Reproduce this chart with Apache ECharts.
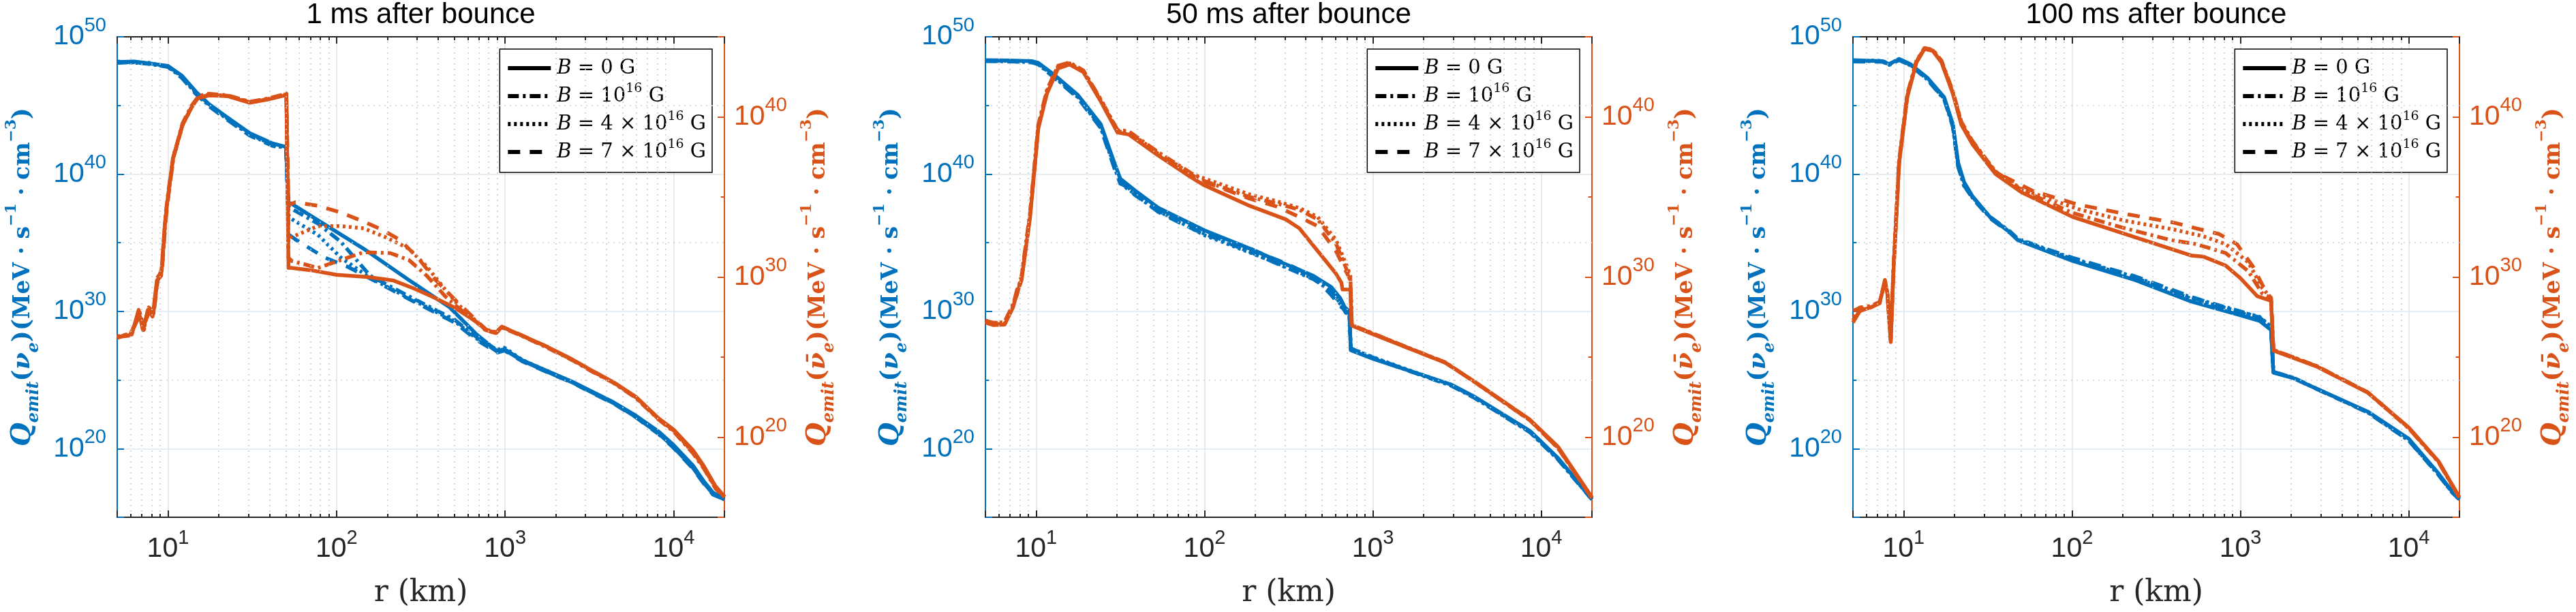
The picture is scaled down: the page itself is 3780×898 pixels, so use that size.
<!DOCTYPE html>
<html>
<head>
<meta charset="utf-8">
<title>Q_emit profiles</title>
<style>
  html, body { margin: 0; padding: 0; background: #fff; }
</style>
</head>
<body>
<div id="main" style="width: 3780px; height: 898px;"></div>
<script src="https://cdn.jsdelivr.net/npm/echarts@6/dist/echarts.min.js"></script>
<script type="text/javascript">
// every curve: [r (km), log10 Q_emit]
// ---- 1 ms after bounce ----
var nue1_B0 = [[5,48.16],[6.3,48.2],[7.9,48.05],[9,47.95],[10,47.88],[12.1,47.17],[14.6,46.02],[17.5,45.1],[22.5,44.13],[30.6,42.97],[41.8,42.23],[50.2,41.98],[51.9,37.9],[53.6,37.87],[144,34.58],[269,32.28],[468,30.3],[681,28.3],[900,27.1],[990,27.25],[1270,26.43],[2020,25.36],[2510,24.87],[3210,24.21],[4380,23.39],[5970,22.4],[8150,21.24],[10000,20.26],[13000,18.78],[15100,17.62],[17100,16.8],[20000,16.35]];
var nue1_B1 = [[5,48.1],[6.3,48.15],[7.9,48.0],[9,47.9],[10,47.8],[12.1,47.05],[14.6,45.9],[17.5,45.0],[22.5,44.0],[30.6,42.85],[41.8,42.1],[50.2,41.9],[51.9,37.6],[54.3,37.46],[77.6,36.39],[106,35.07],[158,32.6],[269,31.1],[500,29.4],[681,28.1],[900,27.05],[990,27.2],[1270,26.4],[2020,25.3],[2510,24.82],[3210,24.15],[4380,23.33],[5970,22.3],[8150,21.1],[10000,20.1],[13000,18.6],[15100,17.5],[17100,16.7],[20000,16.3]];
var nue1_B4 = [[5,48.2],[6.3,48.1],[7.9,48.1],[9,47.9],[10,47.85],[12.1,47.1],[14.6,45.95],[17.5,45.05],[22.5,44.05],[30.6,42.9],[41.8,42.15],[50.2,41.95],[51.9,37.0],[54.3,36.72],[77.6,35.57],[106,33.92],[158,32.44],[269,30.96],[500,29.3],[681,28.0],[900,27.2],[990,27.35],[1270,26.45],[2020,25.35],[2510,24.85],[3210,24.2],[4380,23.36],[5970,22.35],[8150,21.15],[10000,20.15],[13000,18.7],[15100,17.55],[17100,16.75],[20000,16.3]];
var nue1_B7 = [[5,48.12],[6.3,48.18],[7.9,48.02],[9,47.92],[10,47.82],[12.1,47.0],[14.6,45.85],[17.5,44.95],[22.5,43.95],[30.6,42.8],[41.8,42.05],[50.2,41.85],[52,35.6],[57,35.24],[85,33.92],[116,33.26],[158,32.4],[269,30.9],[500,29.2],[681,27.9],[900,27.0],[990,27.15],[1270,26.35],[2020,25.28],[2510,24.8],[3210,24.12],[4380,23.3],[5970,22.28],[8150,21.05],[10000,20.05],[13000,18.55],[15100,17.45],[17100,16.65],[20000,16.3]];
var anue1_B0 = [[5,26.26],[6.1,26.4],[6.7,27.95],[7.1,26.68],[7.6,27.95],[8.1,27.53],[8.6,29.79],[9.1,30.07],[9.6,33.4],[10,35.0],[10.7,37.42],[11.4,38.4],[12.1,39.4],[13.7,40.53],[15,41.16],[17.5,41.34],[22.5,41.3],[30.6,40.88],[39.3,41.09],[50.4,41.37],[51.9,30.57],[53.6,30.57],[70,30.43],[100,30.14],[154,30.0],[216,29.79],[286,29.3],[366,28.8],[500,28.1],[681,27.18],[771,26.68],[885,26.54],[957,26.89],[1270,26.33],[1730,25.7],[2510,24.85],[3210,24.21],[4380,23.44],[5970,22.52],[8150,21.17],[10000,20.47],[13000,19.2],[15100,18.2],[17700,16.94],[20000,16.3]];
var anue1_B1 = [[5,26.2],[6,26.5],[6.8,27.6],[7.2,26.9],[7.7,28.1],[8.2,27.8],[8.7,29.9],[9.2,30.5],[9.7,34.0],[10.1,35.5],[10.8,37.6],[11.5,38.6],[12.2,39.6],[13.8,40.7],[15.2,41.3],[17.5,41.45],[22.5,41.35],[30.6,40.95],[39.3,41.15],[50.4,41.45],[51.9,31.2],[54.3,31.0],[77.6,30.57],[106,31.06],[145,31.55],[209,31.49],[269,31.06],[344,30.07],[441,28.8],[525,28.1],[681,27.15],[771,26.65],[885,26.5],[957,26.85],[1270,26.3],[1730,25.65],[2510,24.8],[3210,24.15],[4380,23.4],[5970,22.45],[8150,21.1],[10000,20.35],[13000,19.0],[15100,18.05],[17700,16.8],[20000,16.25]];
var anue1_B4 = [[5,26.3],[6,26.45],[6.8,27.8],[7.2,26.8],[7.7,28.0],[8.2,27.7],[8.7,30.0],[9.2,30.4],[9.7,33.8],[10.1,35.3],[10.8,37.5],[11.5,38.5],[12.2,39.5],[13.8,40.6],[15.2,41.25],[17.5,41.4],[22.5,41.3],[30.6,40.9],[39.3,41.1],[50.4,41.4],[51.9,32.2],[53.6,32.47],[77.6,33.18],[106,33.18],[145,33.04],[197,32.47],[269,31.77],[344,30.64],[441,29.22],[525,28.3],[681,27.2],[771,26.7],[885,26.55],[957,26.88],[1270,26.32],[1730,25.68],[2510,24.82],[3210,24.18],[4380,23.42],[5970,22.48],[8150,21.12],[10000,20.4],[13000,19.05],[15100,18.1],[17700,16.85],[20000,16.25]];
var anue1_B7 = [[5,26.25],[6,26.35],[6.8,27.7],[7.2,26.7],[7.7,27.9],[8.2,27.6],[8.7,29.8],[9.2,30.3],[9.7,33.6],[10.1,35.2],[10.8,37.5],[11.5,38.5],[12.2,39.5],[13.8,40.6],[15.2,41.2],[17.5,41.38],[22.5,41.32],[30.6,40.92],[39.3,41.12],[50.4,41.42],[51.9,34.5],[57,34.67],[77.6,34.45],[106,34.03],[145,33.46],[185,32.97],[237,32.33],[304,31.2],[389,29.79],[525,28.4],[681,27.25],[771,26.72],[885,26.56],[957,26.9],[1270,26.34],[1730,25.7],[2510,24.84],[3210,24.2],[4380,23.43],[5970,22.5],[8150,21.14],[10000,20.42],[13000,19.1],[15100,18.12],[17700,16.88],[20000,16.28]];

// ---- 50 ms after bounce ----
var nue2_B0 = [[5,48.3],[7,48.28],[9.5,48.22],[10.3,48.1],[13,47.17],[17.7,45.76],[24.2,43.64],[29.2,40.8],[31.6,39.67],[38.4,38.83],[53,37.55],[72.8,36.72],[100,35.9],[185,34.58],[304,33.43],[442,32.6],[565,31.78],[640,30.96],[681,30.3],[724,30.0],[740,27.17],[1020,26.51],[1790,25.53],[2900,24.68],[3950,23.83],[8570,21.29],[12600,19.31],[20000,16.34]];
var nue2_B1 = [[5,48.25],[7,48.2],[9.5,48.15],[10.3,48.0],[13,47.0],[17.7,45.6],[24.2,43.4],[29.2,40.5],[31.6,39.3],[35,39.1],[38.4,38.5],[53,37.3],[72.8,36.5],[100,35.65],[185,34.35],[304,33.2],[442,32.35],[565,31.5],[640,30.6],[690,29.9],[724,29.8],[740,27.3],[1020,26.6],[1790,25.5],[2900,24.6],[3950,23.75],[8570,21.2],[12600,19.2],[20000,16.3]];
var nue2_B4 = [[5,48.28],[7,48.25],[9.5,48.18],[10.3,48.05],[13,47.05],[17.7,45.65],[24.2,43.45],[29.2,40.6],[31.6,39.4],[35,38.9],[38.4,38.6],[53,37.35],[72.8,36.45],[100,35.55],[185,34.3],[304,33.25],[442,32.4],[565,31.45],[640,30.55],[700,29.95],[724,30.1],[740,27.3],[1020,26.62],[1790,25.55],[2900,24.65],[3950,23.78],[8570,21.22],[12600,19.25],[20000,16.3]];
var nue2_B7 = [[5,48.22],[7,48.22],[9.5,48.12],[10.3,48.0],[13,46.95],[17.7,45.55],[24.2,43.35],[29.2,40.4],[31.6,39.35],[35,39.0],[38.4,38.55],[53,37.25],[72.8,36.4],[100,35.6],[150,35.0],[185,34.6],[250,33.9],[304,33.5],[442,32.55],[565,31.2],[650,30.3],[724,29.9],[740,27.2],[1020,26.55],[1790,25.5],[2900,24.62],[3950,23.75],[8570,21.2],[12600,19.22],[20000,16.3]];
var anue2_B0 = [[5,27.15],[5.6,27.0],[6.5,27.03],[7.3,28.12],[7.7,29.0],[8.2,29.82],[9.2,33.7],[10.3,39.27],[11.6,41.45],[13.5,43.03],[15.8,43.27],[19.1,42.79],[24.2,40.97],[30.4,39.03],[35.5,38.9],[53,37.6],[83,36.24],[100,35.72],[185,34.45],[304,33.6],[366,33.04],[470,31.63],[603,30.22],[650,29.65],[660,29.22],[735,29.22],[748,26.97],[1020,26.4],[1630,25.56],[2690,24.65],[3950,23.52],[8570,21.09],[12600,19.39],[20000,16.24]];
var anue2_B1 = [[5,27.3],[5.6,27.1],[6.5,27.2],[7.3,28.3],[7.7,28.9],[8.2,30.1],[9.2,34.0],[10.3,39.5],[11.6,41.7],[13.5,43.2],[15.8,43.4],[19.1,42.9],[24.2,41.1],[30.4,39.2],[35.5,39.1],[53,37.8],[83,36.5],[100,36.0],[185,35.0],[269,34.6],[366,34.2],[470,33.6],[603,32.1],[703,30.4],[735,29.9],[750,27.0],[1020,26.45],[1630,25.58],[2690,24.68],[3950,23.5],[8570,21.05],[12600,19.3],[20000,16.2]];
var anue2_B4 = [[5,27.2],[5.6,27.05],[6.5,27.1],[7.3,28.2],[7.7,29.1],[8.2,30.0],[9.2,33.9],[10.3,39.4],[11.6,41.6],[13.5,43.15],[15.8,43.35],[19.1,42.85],[24.2,41.05],[30.4,39.15],[35.5,39.05],[53,37.75],[83,36.45],[100,36.15],[185,35.16],[269,34.73],[366,34.31],[470,33.75],[603,32.33],[703,30.64],[735,30.07],[750,27.0],[1020,26.43],[1630,25.57],[2690,24.66],[3950,23.51],[8570,21.07],[12600,19.33],[20000,16.22]];
var anue2_B7 = [[5,27.25],[5.6,27.15],[6.5,27.15],[7.3,28.25],[7.7,29.2],[8.2,29.95],[9.2,33.8],[10.3,39.35],[11.6,41.55],[13.5,43.1],[15.8,43.3],[19.1,42.82],[24.2,41.0],[30.4,39.1],[35.5,39.0],[53,37.7],[83,36.4],[100,35.95],[185,34.9],[269,34.4],[366,33.75],[470,33.18],[603,31.63],[703,30.22],[735,29.8],[750,27.0],[1020,26.42],[1630,25.56],[2690,24.66],[3950,23.5],[8570,21.06],[12600,19.32],[20000,16.22]];

// ---- 100 ms after bounce ----
var nue3_B0 = [[5,48.3],[7.5,48.22],[8.2,48.0],[9.4,48.39],[11,48.0],[13.8,47.03],[17.4,45.6],[19.6,43.64],[21.1,40.8],[22.9,39.39],[25.6,38.4],[32.5,36.88],[43,35.73],[47.5,35.2],[101,33.67],[237,32.28],[514,30.71],[1000,29.72],[1300,29.31],[1520,28.65],[1570,25.53],[2080,25.12],[2630,24.54],[5700,22.7],[10000,20.72],[15000,18.2],[18000,16.9],[20000,16.34]];
var nue3_B1 = [[5,48.25],[7.5,48.2],[8.2,47.95],[9.4,48.35],[11,47.9],[13.8,46.9],[17.4,45.45],[19.6,43.5],[21.1,40.5],[22.9,39.2],[25.6,38.3],[32.5,36.9],[43,35.8],[47.5,35.3],[101,33.85],[237,32.5],[514,31.0],[1000,30.0],[1300,29.55],[1520,28.85],[1570,25.6],[2080,25.15],[2630,24.55],[5700,22.65],[10000,20.6],[15000,18.1],[18000,16.85],[20000,16.3]];
var nue3_B4 = [[5,48.28],[7.5,48.25],[8.2,48.02],[9.4,48.36],[11,47.95],[13.8,46.95],[17.4,45.5],[19.6,43.55],[21.1,40.6],[22.9,39.1],[25.6,38.35],[32.5,36.85],[43,35.75],[47.5,35.25],[101,33.8],[237,32.45],[514,30.9],[1000,29.95],[1300,29.6],[1520,28.9],[1570,25.6],[2080,25.14],[2630,24.55],[5700,22.66],[10000,20.62],[15000,18.12],[18000,16.86],[20000,16.3]];
var nue3_B7 = [[5,48.2],[7.5,48.18],[8.2,47.98],[9.4,48.3],[11,47.92],[13.8,46.92],[17.4,45.48],[19.6,43.45],[21.1,40.55],[22.9,39.15],[25.6,38.25],[32.5,36.8],[43,35.7],[47.5,35.22],[101,33.9],[237,32.55],[514,31.05],[1000,29.9],[1300,29.5],[1520,28.8],[1570,25.58],[2080,25.13],[2630,24.53],[5700,22.64],[10000,20.6],[15000,18.1],[18000,16.85],[20000,16.3]];
var anue3_B0 = [[5,27.15],[5.3,27.6],[5.5,27.88],[6.4,28.12],[7.2,28.36],[7.74,29.82],[8.0,29.0],[8.38,25.94],[8.7,30.3],[9.4,37.09],[10.5,41.21],[11.9,43.39],[13.3,44.24],[14.9,44.12],[16.8,43.39],[19.6,41.45],[22,39.52],[25.6,38.3],[35,36.45],[50,35.3],[101,33.75],[237,32.48],[514,31.34],[600,31.28],[819,30.71],[1000,29.93],[1260,28.8],[1520,28.52],[1570,25.41],[2830,24.42],[5700,22.79],[10000,20.6],[15000,18.5],[20000,16.24]];
var anue3_B1 = [[5,27.9],[5.3,28.0],[5.5,28.1],[6.4,28.2],[7.2,28.45],[7.74,29.6],[8.0,29.1],[8.38,26.2],[8.7,30.6],[9.4,37.3],[10.5,41.4],[11.9,43.5],[13.3,44.3],[14.9,44.2],[16.8,43.5],[19.6,41.6],[22,39.7],[25.6,38.5],[35,36.6],[50,35.45],[101,34.0],[197,33.1],[378,32.33],[550,32.05],[819,31.49],[1115,30.36],[1350,28.96],[1520,28.7],[1570,25.45],[2830,24.45],[5700,22.8],[10000,20.55],[15000,18.45],[20000,16.22]];
var anue3_B4 = [[5,27.5],[5.3,27.7],[5.5,27.95],[6.4,28.15],[7.2,28.4],[7.74,29.7],[8.0,29.05],[8.38,26.1],[8.7,30.5],[9.4,37.2],[10.5,41.3],[11.9,43.45],[13.3,44.28],[14.9,44.16],[16.8,43.45],[19.6,41.55],[22,39.65],[25.6,38.45],[35,36.6],[50,35.5],[109,34.24],[203,33.53],[401,32.97],[600,32.55],[819,32.05],[1115,30.92],[1350,29.3],[1520,28.7],[1570,25.45],[2830,24.44],[5700,22.8],[10000,20.57],[15000,18.47],[20000,16.22]];
var anue3_B7 = [[5,27.3],[5.3,27.65],[5.5,27.9],[6.4,28.1],[7.2,28.38],[7.74,29.75],[8.0,29.02],[8.38,26.05],[8.7,30.4],[9.4,37.15],[10.5,41.25],[11.9,43.42],[13.3,44.26],[14.9,44.14],[16.8,43.42],[19.6,41.5],[22,39.6],[25.6,38.4],[35,36.55],[58.6,35.37],[109,34.52],[203,33.96],[401,33.4],[547,33.04],[746,32.69],[955,32.05],[1189,30.64],[1432,29.0],[1520,28.7],[1570,25.45],[2830,24.43],[5700,22.8],[10000,20.58],[15000,18.48],[20000,16.23]];

var panelTitles = ['1 ms after bounce', '50 ms after bounce', '100 ms after bounce'];
var fieldNames = ['B = 0 G', 'B = 10^16 G', 'B = 4 × 10^16 G', 'B = 7 × 10^16 G'];
var nueCurves = [[nue1_B0, nue1_B1, nue1_B4, nue1_B7], [nue2_B0, nue2_B1, nue2_B4, nue2_B7], [nue3_B0, nue3_B1, nue3_B4, nue3_B7]];
var anueCurves = [[anue1_B0, anue1_B1, anue1_B4, anue1_B7], [anue2_B0, anue2_B1, anue2_B4, anue2_B7], [anue3_B0, anue3_B1, anue3_B4, anue3_B7]];
var minorR = [6, 7, 8, 9, 20, 30, 40, 50, 60, 70, 80, 90, 200, 300, 400, 500, 600, 700, 800, 900, 2000, 3000, 4000, 5000, 6000, 7000, 8000, 9000];
var minorQ = [1e25, 1e35, 1e45];
var minorQright = [1e25, 1e35];

var R_MIN = 5, R_MAX = 20000;
var NUE_MIN = 1e15, NUE_MAX = 1e50;
var ANUE_MIN = 1e15, ANUE_MAX = 1e45;

var BLUE = '#0072BD', ORANGE = '#D95319', DARK = '#262626';
var lineTypes = ['solid', [16, 6, 4, 6], [4, 5], [18, 14]];
var gridLefts = [172, 1446, 2719];
var gridWidths = [891, 890, 890];
var GRID_TOP = 54, GRID_H = 709;
var PAGE_W = 3780;

var myChart = echarts.init(document.getElementById('main'), null, { renderer: 'canvas' });

function tickRich(color) {
    return {
        b: { fontFamily: 'Liberation Sans', fontSize: 41, lineHeight: 62, color: color },
        s: { fontFamily: 'Liberation Sans', fontSize: 29, lineHeight: 30, verticalAlign: 'top', color: color }
    };
}
function decadeLabel(v, step) {
    var e = Math.log10(v);
    var n = Math.round(e);
    if (Math.abs(e - n) > 1e-6 || n % step !== 0) return '';
    return '{b|10}{s|' + n + '}';
}
function nameRich(color) {
    var f = 'DejaVu Serif';
    return {
        q: { fontFamily: f, fontStyle: 'italic', fontWeight: 'bold', fontSize: 40, lineHeight: 56, color: color },
        sub: { fontFamily: f, fontStyle: 'italic', fontWeight: 'bold', fontSize: 24, lineHeight: 25, verticalAlign: 'bottom', color: color },
        p: { fontFamily: f, fontWeight: 'bold', fontSize: 36, lineHeight: 56, color: color },
        nu: { fontFamily: f, fontStyle: 'italic', fontWeight: 'bold', fontSize: 36, lineHeight: 56, color: color },
        b: { fontFamily: f, fontWeight: 'bold', fontSize: 33, lineHeight: 56, color: color },
        sup: { fontFamily: f, fontWeight: 'bold', fontSize: 22, lineHeight: 23, verticalAlign: 'top', color: color }
    };
}
function qName(nu) {
    return '{q|Q}{sub|emit}{p|(}{nu|' + nu + '}{sub|e}{p|)(}{b|MeV · s}{sup|−1}{b| · cm}{sup|−3}{p|)}';
}
var legendText = {
    'B = 0 G': '{i|B}{r| = 0 G}',
    'B = 10^16 G': '{i|B}{r| = 10}{s|16}{r| G}',
    'B = 4 × 10^16 G': '{i|B}{r| = 4 × 10}{s|16}{r| G}',
    'B = 7 × 10^16 G': '{i|B}{r| = 7 × 10}{s|16}{r| G}'
};

var titles = [], grids = [], xAxes = [], yAxes = [], legends = [], series = [];

for (var p = 0; p < 3; p++) {
    var plotRight = gridLefts[p] + gridWidths[p];
    titles.push({
        text: panelTitles[p], left: gridLefts[p] + gridWidths[p] / 2, top: 1, textAlign: 'center', padding: 0,
        textStyle: { fontFamily: 'Liberation Sans', fontSize: 42, fontWeight: 'normal', color: '#000' }
    });
    grids.push({ left: gridLefts[p], top: GRID_TOP, width: gridWidths[p], height: GRID_H, containLabel: false });

    xAxes.push({
        type: 'log', logBase: 10, gridIndex: p, min: R_MIN, max: R_MAX, position: 'bottom',
        name: 'r (km)', nameLocation: 'middle', nameGap: 90,
        nameTextStyle: { fontFamily: 'DejaVu Serif', fontSize: 44, color: DARK },
        axisLine: { onZero: false, lineStyle: { color: DARK, width: 2 } },
        axisTick: { inside: true, length: 10, lineStyle: { color: DARK, width: 2 } },
        axisLabel: { margin: 16, color: DARK, formatter: function (v) { return decadeLabel(v, 1); }, rich: tickRich(DARK) },
        splitLine: { show: true, lineStyle: { color: '#e2e2e2', width: 1.5 } }
    });
    xAxes.push({
        type: 'log', logBase: 10, gridIndex: p, min: R_MIN, max: R_MAX, position: 'top',
        axisLine: { onZero: false, lineStyle: { color: DARK, width: 2 } },
        axisTick: { inside: true, length: 10, lineStyle: { color: DARK, width: 2 } },
        axisLabel: { show: false },
        splitLine: { show: false }
    });

    yAxes.push({
        type: 'log', logBase: 10, gridIndex: p, min: NUE_MIN, max: NUE_MAX, position: 'left',
        name: qName('ν'), nameLocation: 'middle', nameRotate: 90, nameGap: 110,
        nameTextStyle: { color: BLUE, rich: nameRich(BLUE) },
        axisLine: { show: true, onZero: false, lineStyle: { color: BLUE, width: 2 } },
        axisTick: { inside: true, length: 10, lineStyle: { color: BLUE, width: 2 } },
        axisLabel: { margin: 16, color: BLUE, formatter: function (v) { return decadeLabel(v, 10); }, rich: tickRich(BLUE) },
        splitLine: { show: true, lineStyle: { color: '#dbe8f3', width: 1.5 } }
    });
    yAxes.push({
        type: 'log', logBase: 10, gridIndex: p, min: ANUE_MIN, max: ANUE_MAX, position: 'right',
        name: qName('ν̄'), nameLocation: 'middle', nameRotate: 90, nameGap: 110,
        nameTextStyle: { color: ORANGE, rich: nameRich(ORANGE) },
        axisLine: { show: true, onZero: false, lineStyle: { color: ORANGE, width: 2 } },
        axisTick: { inside: true, length: 10, lineStyle: { color: ORANGE, width: 2 } },
        axisLabel: { margin: 14, color: ORANGE, formatter: function (v) { return decadeLabel(v, 10); }, rich: tickRich(ORANGE) },
        splitLine: { show: false }
    });

    legends.push({
        right: PAGE_W - (plotRight - 18), top: 72, orient: 'vertical',
        data: fieldNames.map(function (n) { return { name: n, lineStyle: { width: 6 } }; }),
        itemWidth: 63, itemHeight: 22, itemGap: 1, padding: [8, 9, 10, 9],
        borderColor: '#000', borderWidth: 1.5, backgroundColor: '#fff', borderRadius: 0,
        selectedMode: false, itemStyle: { opacity: 0 },
        lineStyle: { width: 6 },
        formatter: function (name) { return legendText[name]; },
        textStyle: {
            fontFamily: 'DejaVu Serif', fontSize: 29, color: '#000', lineHeight: 40,
            rich: {
                i: { fontFamily: 'DejaVu Serif', fontStyle: 'italic', fontSize: 29, lineHeight: 40, padding: [0, 0, 0, 4] },
                r: { fontFamily: 'DejaVu Serif', fontSize: 29, lineHeight: 40 },
                s: { fontFamily: 'DejaVu Serif', fontSize: 19, lineHeight: 22, verticalAlign: 'top' }
            }
        }
    });

    // minor grid and minor ticks
    var xi = 2 * p, yl = 2 * p, yr = 2 * p + 1;
    var mlBase = { silent: true, symbol: ['none', 'none'], label: { show: false }, animation: false };
    series.push({
        type: 'line', name: '_vgrid' + p, xAxisIndex: xi, yAxisIndex: yl, data: [], silent: true,
        markLine: Object.assign({}, mlBase, {
            lineStyle: { color: '#c9c9c9', width: 1.5, type: [2, 6] },
            data: minorR.map(function (v) { return { xAxis: v }; })
        })
    });
    series.push({
        type: 'line', name: '_hgrid' + p, xAxisIndex: xi, yAxisIndex: yl, data: [], silent: true,
        markLine: Object.assign({}, mlBase, {
            lineStyle: { color: '#c2d6e8', width: 1.5, type: [2, 6] },
            data: minorQ.map(function (v) { return { yAxis: v }; })
        })
    });
    var lo = NUE_MIN * 1.001, hi = NUE_MAX / 1.001;
    var xTicks = [];
    minorR.forEach(function (v) {
        xTicks.push([{ coord: [v, lo] }, { coord: [v, lo * Math.pow(10, 0.25)] }]);
        xTicks.push([{ coord: [v, hi] }, { coord: [v, hi / Math.pow(10, 0.25)] }]);
    });
    series.push({
        type: 'line', name: '_xticks' + p, xAxisIndex: xi, yAxisIndex: yl, data: [], silent: true,
        markLine: Object.assign({}, mlBase, { lineStyle: { color: DARK, width: 2, type: 'solid' }, data: xTicks })
    });
    series.push({
        type: 'line', name: '_lticks' + p, xAxisIndex: xi, yAxisIndex: yl, data: [], silent: true,
        markLine: Object.assign({}, mlBase, {
            lineStyle: { color: BLUE, width: 2, type: 'solid' },
            data: minorQ.map(function (q) { return [{ coord: [R_MIN * 1.0005, q] }, { coord: [R_MIN * Math.pow(10, 0.022), q] }]; })
        })
    });
    series.push({
        type: 'line', name: '_rticks' + p, xAxisIndex: xi, yAxisIndex: yr, data: [], silent: true,
        markLine: Object.assign({}, mlBase, {
            lineStyle: { color: ORANGE, width: 2, type: 'solid' },
            data: minorQright.map(function (q) { return [{ coord: [R_MAX / 1.0005, q] }, { coord: [R_MAX / Math.pow(10, 0.022), q] }]; })
        })
    });
}

function toQ(curve) {
    return curve.map(function (d) { return [d[0], Math.pow(10, d[1])]; });
}

[3, 2, 1, 0].forEach(function (k) {
    for (var p = 0; p < 3; p++) {
        series.push({
            type: 'line', name: 'nue ' + p + ' ' + k, xAxisIndex: 2 * p, yAxisIndex: 2 * p,
            data: toQ(nueCurves[p][k]), showSymbol: false, symbol: 'none', silent: true,
            lineStyle: { color: BLUE, width: 5.5, type: lineTypes[k], cap: 'butt', join: 'round' }
        });
    }
});
[3, 2, 1, 0].forEach(function (k) {
    for (var p = 0; p < 3; p++) {
        series.push({
            type: 'line', name: 'anue ' + p + ' ' + k, xAxisIndex: 2 * p, yAxisIndex: 2 * p + 1,
            data: toQ(anueCurves[p][k]), showSymbol: false, symbol: 'none', silent: true,
            lineStyle: { color: ORANGE, width: 5.5, type: lineTypes[k], cap: 'butt', join: 'round' }
        });
    }
});

// legend-only series (black)
fieldNames.forEach(function (name, k) {
    series.push({
        type: 'line', name: name, xAxisIndex: 0, yAxisIndex: 0, data: [], showSymbol: false, symbol: 'none',
        itemStyle: { color: '#000' },
        lineStyle: { color: '#000', width: 6, type: lineTypes[k] }
    });
});

var option = {
    backgroundColor: '#fff',
    animation: false,
    title: titles,
    grid: grids,
    xAxis: xAxes,
    yAxis: yAxes,
    legend: legends,
    series: series
};
myChart.setOption(option);
</script>
</body>
</html>
